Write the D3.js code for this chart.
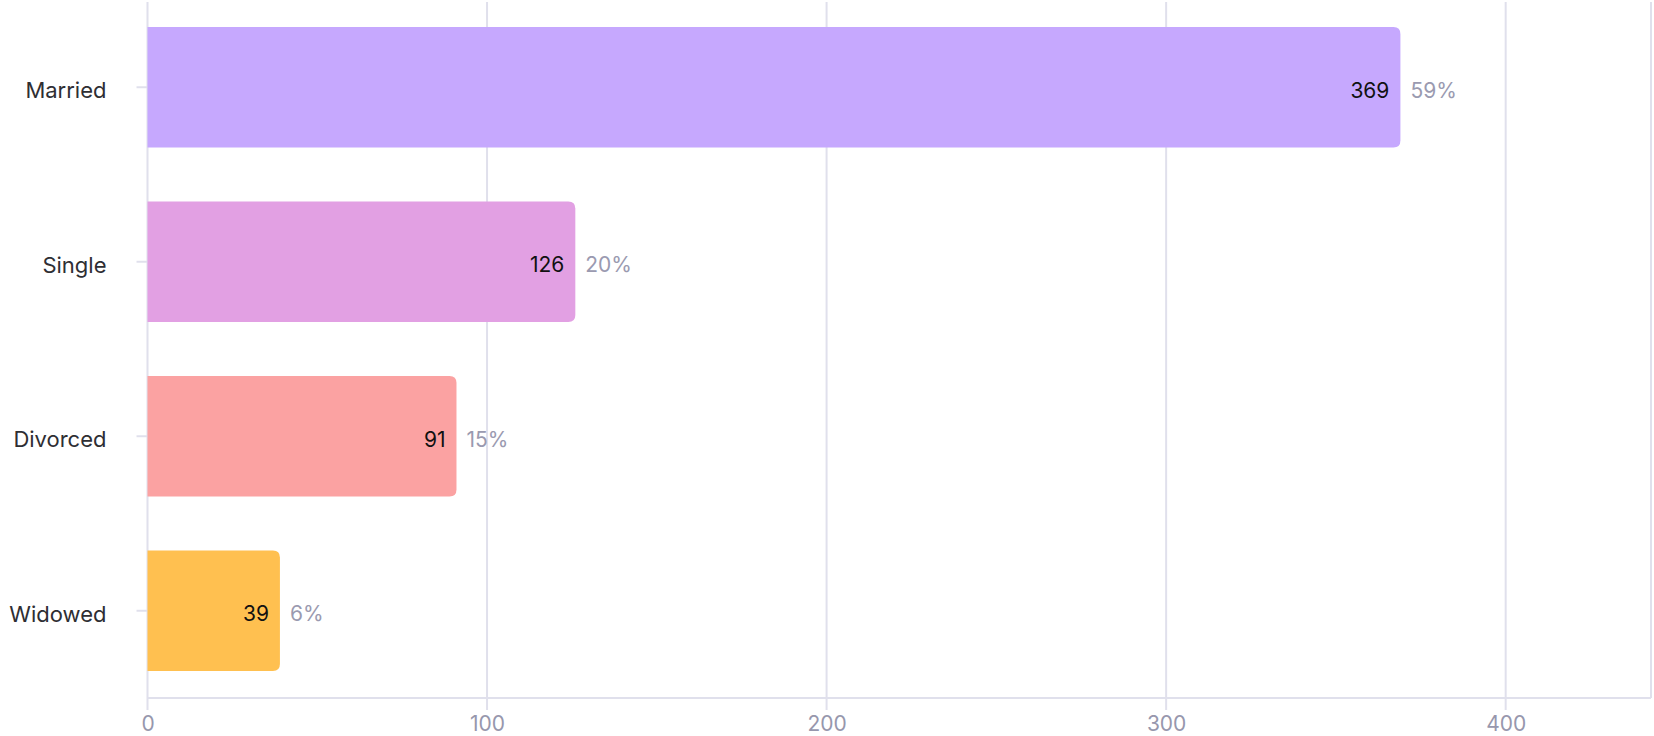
<!DOCTYPE html>
<html>
<head>
<meta charset="utf-8">
<script src="https://cdn.jsdelivr.net/npm/d3@7"></script>
<style>
  body { margin: 0; background: #fff; }
  svg { display: block; font-family: Inter, "Noto Sans", sans-serif; }
</style>
</head>
<body>
<script>
const categories = ['Married', 'Single', 'Divorced', 'Widowed'];
const counts = [369, 126, 91, 39];
const colors = ['#c6a8fe', '#e2a0e3', '#fba2a2', '#ffc050'];
const tickValues = [0, 100, 200, 300, 400];

const width = 1654;
const height = 736;
const left = 147.5;
const right = 1651;
const bottom = 698;

const total = d3.sum(counts);
const data = categories.map((c, i) => ({ cat: c, value: counts[i], color: colors[i] }));

const svg = d3.select('body')
  .append('svg')
  .attr('width', width)
  .attr('height', height);

const xScale = d3.scaleLinear()
  .domain([0, d3.max(counts) * 1.2])
  .range([left, right]);

const yScale = d3.scaleBand()
  .domain(categories)
  .range([0, bottom])
  .paddingInner(0.31)
  .paddingOuter(0.155);

const gridColor = '#e0e0ec';

// vertical grid lines, running a little below the axis as ticks
svg.append('g')
  .selectAll('line')
  .data(tickValues)
  .enter()
  .append('line')
  .attr('x1', d => xScale(d))
  .attr('x2', d => xScale(d))
  .attr('y1', 2)
  .attr('y2', bottom + 12)
  .attr('stroke', gridColor)
  .attr('stroke-width', 2)

// right frame line
svg.append('line')
  .attr('x1', xScale.range()[1])
  .attr('x2', xScale.range()[1])
  .attr('y1', 2)
  .attr('y2', bottom)
  .attr('stroke', gridColor)
  .attr('stroke-width', 2)

// bottom axis line
svg.append('line')
  .attr('x1', left)
  .attr('x2', right)
  .attr('y1', bottom)
  .attr('y2', bottom)
  .attr('stroke', gridColor)
  .attr('stroke-width', 2)

const xAxis = d3.axisBottom(xScale)
  .tickValues(tickValues)
  .tickSize(0)
  .tickPadding(18)

svg.append('g')
  .attr('transform', `translate(0,${bottom})`)
  .call(xAxis)
  .call(g => g.select('.domain').remove())
  .selectAll('text')
  .attr('fill', '#9797ad')
  .attr('font-size', 21)
  .attr('font-family', 'Inter, sans-serif')

const yAxis = d3.axisLeft(yScale)
  .tickSize(11)
  .tickPadding(30)

svg.append('g')
  .attr('transform', `translate(${left},0)`)
  .call(yAxis)
  .call(g => g.select('.domain').remove())
  .call(g => g.selectAll('.tick line').attr('stroke', gridColor).attr('stroke-width', 2))
  .selectAll('text')
  .attr('fill', '#2e2e33')
  .attr('font-size', 22)
  .attr('dy', '0.5em')
  .attr('font-family', 'Inter, sans-serif')

// bars, rounded on the right side only
const r = 7;
function barPath(d) {
  const x0 = xScale(0);
  const x1 = xScale(d.value);
  const y0 = yScale(d.cat);
  const y1 = y0 + yScale.bandwidth();
  return `M${x0},${y0} H${x1 - r} Q${x1},${y0} ${x1},${y0 + r} V${y1 - r} Q${x1},${y1} ${x1 - r},${y1} H${x0} Z`;
}

svg.selectAll('.bar')
  .data(data)
  .enter()
  .append('path')
  .attr('class', 'bar')
  .attr('d', barPath)
  .attr('fill', d => d.color)

svg.selectAll('.value')
  .data(data)
  .enter()
  .append('text')
  .attr('class', 'value')
  .attr('x', d => xScale(d.value) - 11)
  .attr('y', d => yScale(d.cat) + yScale.bandwidth() / 2)
  .attr('dy', '0.5em')
  .attr('text-anchor', 'end')
  .attr('font-size', 21)
  .attr('fill', '#111')
  .text(d => d.value)

svg.selectAll('.pct')
  .data(data)
  .enter()
  .append('text')
  .attr('class', 'pct')
  .attr('x', d => xScale(d.value) + 10)
  .attr('y', d => yScale(d.cat) + yScale.bandwidth() / 2)
  .attr('dy', '0.5em')
  .attr('font-size', 21)
  .attr('fill', '#9a9ab0')
  .text(d => Math.round(d.value / total * 100) + '%')
</script>
</body>
</html>
